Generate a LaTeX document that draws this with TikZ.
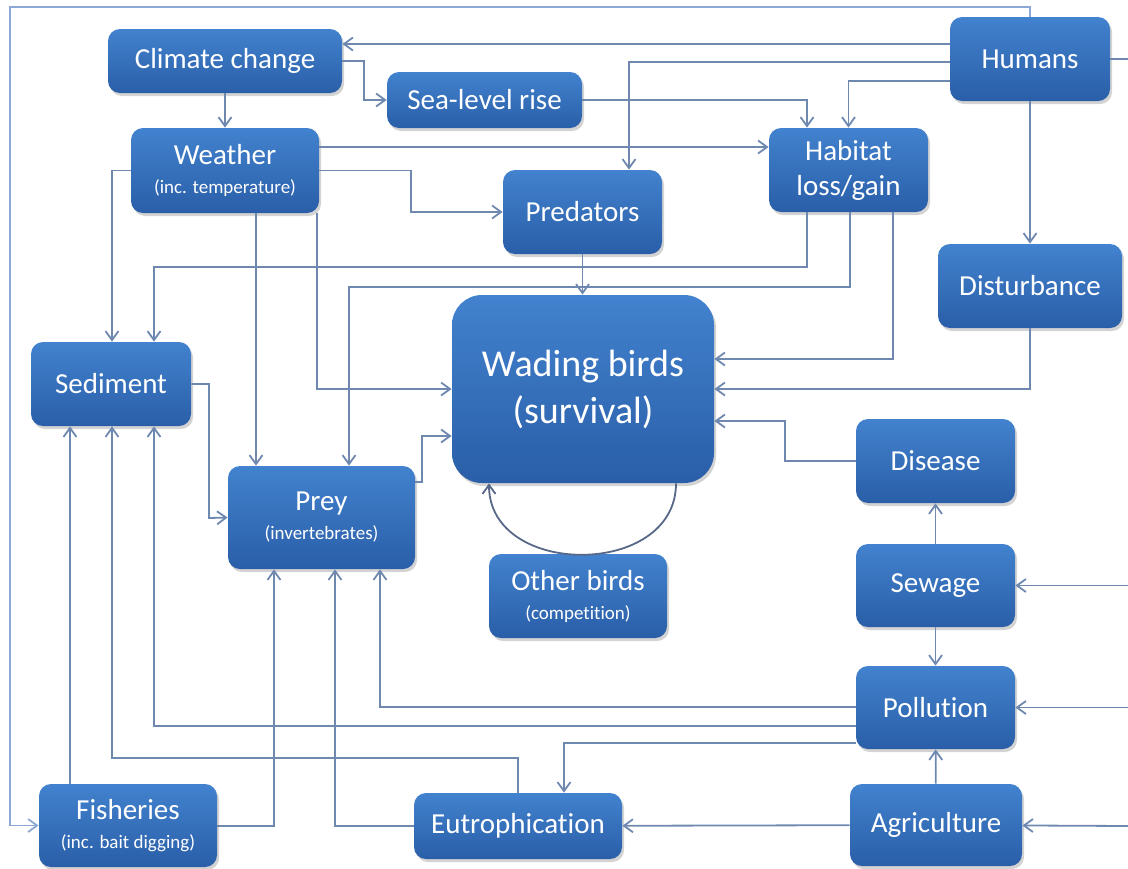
\documentclass[tikz,border=0pt]{standalone}
\usepackage{fontspec}
\setmainfont{Carlito}[Ligatures=NoCommon]
\usetikzlibrary{arrows.meta,shadows}

\definecolor{boxtop}{RGB}{66,130,206}
\definecolor{boxbottom}{RGB}{42,94,168}
\definecolor{linkcol}{RGB}{110,136,176}
\definecolor{framecol}{RGB}{140,168,212}
\definecolor{loopcol}{RGB}{88,104,136}
\newcommand{\subline}[1]{\\[-3pt]{\fontsize{9.5}{11}\selectfont #1}}

\begin{document}
\begin{tikzpicture}
	[x=0.5pt, y=-0.5pt,
	box/.style={rectangle, rounded corners=6pt, top color=boxtop, bottom color=boxbottom,
		text=white, align=center, inner sep=2pt, font=\fontsize{14.5}{17.5}\selectfont,
		drop shadow={shadow xshift=1pt, shadow yshift=-1.5pt, opacity=0.35}},
	bigBox/.style={box, rounded corners=15pt, font=\fontsize{19}{23.5}\selectfont},
	link/.style={draw=linkcol, line width=0.9pt, -{Straight Barb[length=4.5pt,width=6.5pt]}},
	plainLink/.style={draw=linkcol, line width=0.9pt},
	frameLink/.style={link, draw=framecol}]

	\useasboundingbox (0,0) rectangle (1128,868);

	% top row
	\node (clim) at ( 225,61 ) [box, minimum width=117pt, minimum height=32pt] {Climate change};
	\node (sea) at ( 484.5,100 ) [box, minimum width=97.5pt, minimum height=28pt] {Sea-level rise};
	\node (hum) at ( 1030,59 ) [box, minimum width=80pt, minimum height=42pt] {Humans};
	\node (wea) at ( 225,170.5 ) [box, minimum width=94pt, minimum height=42.5pt] {Weather\subline{(inc. temperature)}};
	\node (hab) at ( 848.5,170 ) [box, minimum width=79.5pt, minimum height=42pt] {Habitat\\loss/gain};
	\node (pred) at ( 582.5,212 ) [box, minimum width=79.5pt, minimum height=42pt] {Predators};
	\node (dist) at ( 1030,286 ) [box, minimum width=92pt, minimum height=42pt] {Disturbance};

	% middle
	\node (sed) at ( 111,384 ) [box, minimum width=80pt, minimum height=42pt] {Sediment};
	\node (wad) at ( 583,389 ) [bigBox, minimum width=131pt, minimum height=94pt] {Wading birds\\(survival)};
	\node (prey) at ( 321.5,517.5 ) [box, minimum width=93.5pt, minimum height=51.5pt] {Prey\subline{(invertebrates)}};
	\node (oth) at ( 578,596 ) [box, minimum width=89pt, minimum height=42pt] {Other birds\subline{(competition)}};
	\node (dis) at ( 935.5,461 ) [box, minimum width=79.5pt, minimum height=42pt] {Disease};
	\node (sew) at ( 935.5,585.5 ) [box, minimum width=79.5pt, minimum height=41.5pt] {Sewage};
	\node (pol) at ( 935.5,707.5 ) [box, minimum width=79.5pt, minimum height=41.5pt] {Pollution};

	% bottom row
	\node (fis) at ( 128,825.5 ) [box, minimum width=89pt, minimum height=41.5pt] {Fisheries\subline{(inc. bait digging)}};
	\node (eut) at ( 518,826 ) [box, minimum width=104pt, minimum height=33pt] {Eutrophication};
	\node (agr) at ( 936,825 ) [box, minimum width=86pt, minimum height=41pt] {Agriculture};

	% loose ends on the right margin
	\coordinate (eHum) at ( 1128,59 );
	\coordinate (eSew) at ( 1128,585.5 );
	\coordinate (ePol) at ( 1128,707.5 );
	\coordinate (eAgr) at ( 1128,826 );

	% humans
	\draw [frameLink] (hum.north) |- (10,7) |- (fis.west);
	\draw [link] (hum.west |- 0,44) -- (clim.east |- 0,44);
	\draw [link] (hum.west |- 0,62) -| (pred.north -| 629,0);
	\draw [link] (hum.west |- 0,81) -| (hab.north);
	\draw [link] (hum) -- (dist);
	\draw [plainLink] (hum) -- (eHum);

	% climate and weather
	\draw [link] (clim.east) -| (364,100) -- (sea.west);
	\draw [link] (clim) -- (wea);
	\draw [link] (sea.east) -| (hab.north -| 807,0);
	\draw [link] (wea.east |- 0,147) -- (hab.west |- 0,147);
	\draw [link] (wea.east) -| (411,212) -- (pred.west);
	\draw [link] (wea.west) -| (sed.north -| 112,0);
	\draw [link] (wea.south -| 256,0) -- (prey.north -| 256,0);
	\draw [link] (wea.south -| 317,0) |- (wad.west |- 0,389);

	% habitat
	\draw [link] (hab.south -| 807,0) |- (154,267) -- (sed.north -| 154,0);
	\draw [link] (hab.south -| 850,0) |- (349,287) -- (prey.north -| 349,0);
	\draw [link] (hab.south -| 893,0) |- (wad.east |- 0,359);

	% into wading birds
	\draw [link] (pred.south) -- (pred.south |- wad.north);
	\draw [link] (dist.south) |- (wad.east |- 0,389);
	\draw [link] (dis.west) -| (785,421) -- (wad.east |- 0,421);
	\draw [link] (sed.east) -| (209,518) -- (prey.west);
	\draw [link] (prey.east |- 0,482) -| (422,436) -- (wad.west |- 0,436);
	\draw [link, draw=loopcol] (wad.south -| 676,0) to[out=-90, in=-90, looseness=1.3] (wad.south -| 489,0);

	% from below
	\draw [link] (fis.north -| 70,0) -- (sed.south -| 70,0);
	\draw [link] (eut.north -| 518,0) |- (112,758) -- (sed.south -| 112,0);
	\draw [link] (pol.west |- 0,726) -| (sed.south -| 154,0);
	\draw [link] (fis.east |- 0,826) -| (prey.south -| 274,0);
	\draw [link] (eut.west) -| (prey.south -| 335,0);
	\draw [link] (pol.west |- 0,707) -| (prey.south -| 380,0);
	\draw [link] (pol.west |- 0,743) -| (eut.north -| 564,0);

	% right column
	\draw [link] (sew) -- (dis);
	\draw [link] (sew) -- (pol);
	\draw [link] (agr) -- (pol);
	\draw [link] (agr) -- (eut);
	\draw [link] (eSew) -- (sew);
	\draw [link] (ePol) -- (pol);
	\draw [link] (eAgr) -- (agr);

\end{tikzpicture}
\end{document}
